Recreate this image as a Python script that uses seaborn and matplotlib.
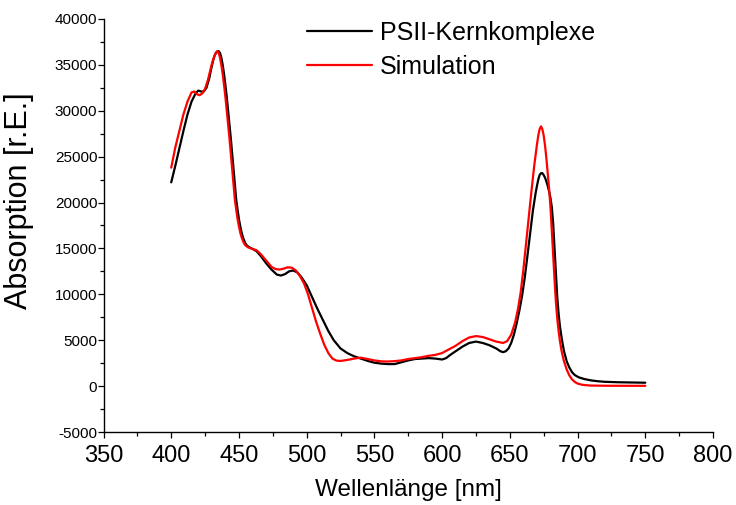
import matplotlib
matplotlib.use("Agg")
import matplotlib.pyplot as plt
import seaborn as sns
import pandas as pd
from matplotlib.ticker import MultipleLocator

# PSII-Kernkomplexe (measured)
psii_nm = [400, 403, 406, 409, 412, 415, 418, 420, 422, 424, 426, 428, 430, 431, 432, 433,
           434, 435, 436, 437, 438, 439, 440, 441, 442, 443, 444, 445, 446, 447, 448, 449,
           450, 451, 452, 453, 454, 455, 456, 458, 460, 463, 466, 470, 474, 478, 481, 484,
           487, 490, 493, 496, 500, 504, 508, 512, 516, 520, 525, 530, 535, 540, 545, 550,
           555, 560, 565, 570, 575, 580, 585, 590, 595, 600, 603, 606, 610, 615, 620, 625,
           630, 635, 640, 643, 645, 647, 649, 651, 653, 655, 657, 659, 661, 663, 665, 667,
           669, 670, 671, 672, 673, 674, 675, 676, 677, 678, 679, 680, 681, 682, 683, 684,
           685, 686, 687, 688, 689, 690, 692, 694, 696, 698, 701, 705, 710, 715, 720, 730,
           740, 750]
psii_abs = [22200, 24000, 25900, 27800, 29600, 31000, 31900, 32200, 32100, 32100, 32500,
            33500, 34900, 35500, 36000, 36300, 36450, 36500, 36300, 35800, 35000, 34000,
            32800, 31500, 30000, 28500, 27000, 25300, 23500, 21800, 20300, 19200, 18200,
            17400, 16700, 16200, 15800, 15500, 15300, 15100, 14950, 14700, 14200, 13400,
            12700, 12150, 12050, 12200, 12500, 12600, 12400, 11900, 11000, 9700, 8400, 7200,
            6000, 5000, 4100, 3600, 3250, 3000, 2750, 2550, 2450, 2400, 2400, 2600, 2800,
            2950, 3000, 3050, 3000, 2900, 3050, 3400, 3800, 4300, 4700, 4850, 4700, 4450,
            4100, 3800, 3700, 3800, 4100, 4700, 5600, 6800, 8200, 9800, 11800, 14200, 16700,
            19100, 21000, 21800, 22500, 23000, 23200, 23200, 23000, 22700, 22300, 21800,
            21200, 20500, 19500, 17700, 15000, 12200, 9700, 7900, 6500, 5500, 4600, 3800,
            2700, 2000, 1500, 1200, 950, 770, 620, 530, 470, 420, 390, 370]

# Simulation
sim_nm = [400, 403, 406, 409, 412, 415, 417, 419, 421, 423, 425, 427, 429, 430, 431, 432,
          433, 434, 435, 436, 437, 438, 439, 440, 441, 442, 443, 444, 445, 446, 447, 448,
          449, 450, 451, 452, 453, 454, 455, 457, 460, 463, 466, 470, 474, 477, 480, 483,
          486, 489, 492, 495, 498, 501, 504, 507, 510, 513, 516, 519, 522, 525, 530, 535,
          540, 545, 550, 555, 560, 565, 570, 575, 580, 585, 590, 595, 600, 605, 610, 615,
          620, 625, 630, 635, 640, 645, 648, 651, 654, 656, 658, 660, 662, 664, 666, 668,
          670, 671, 672, 673, 674, 675, 676, 677, 678, 679, 680, 681, 682, 683, 684, 685,
          686, 687, 688, 689, 690, 692, 694, 696, 698, 700, 703, 706, 710, 720, 735, 750]
sim_abs = [23800, 26000, 27800, 29600, 31000, 32000, 32100, 31800, 31700, 31900, 32400,
           33300, 34500, 35100, 35600, 36000, 36350, 36500, 36300, 35800, 35000, 34000,
           32800, 31500, 30000, 28500, 27000, 25300, 23500, 21800, 20300, 19200, 18200,
           17400, 16700, 16200, 15800, 15500, 15300, 15100, 14950, 14800, 14400, 13700,
           13000, 12750, 12700, 12800, 12950, 12900, 12600, 12000, 11200, 10000, 8500, 7000,
           5700, 4500, 3600, 3000, 2780, 2740, 2850, 3000, 3100, 2950, 2800, 2700, 2680,
           2720, 2800, 2950, 3050, 3150, 3300, 3400, 3600, 4000, 4400, 4900, 5300, 5450,
           5350, 5100, 4850, 4700, 4900, 5600, 7000, 8400, 10200, 12700, 15600, 18600,
           21300, 24000, 26300, 27300, 28000, 28300, 28000, 27300, 26200, 24800, 23200,
           21500, 19500, 17000, 14300, 11600, 9200, 7400, 6000, 4900, 4000, 3300, 2700,
           1800, 1150, 720, 450, 280, 160, 100, 60, 40, 30, 30]

series_names = ["PSII-Kernkomplexe", "Simulation"]
series_colors = ["#000000", "#FF0000"]

x_ticks = [350, 400, 450, 500, 550, 600, 650, 700, 750, 800]
y_ticks = [-5000, 0, 5000, 10000, 15000, 20000, 25000, 30000, 35000, 40000]

df_psii = pd.DataFrame({"nm": psii_nm, "abs": psii_abs})
df_sim = pd.DataFrame({"nm": sim_nm, "abs": sim_abs})

sns.set_theme(style="ticks")
plt.rcParams["font.family"] = ["Liberation Sans", "DejaVu Sans"]
plt.rcParams["text.color"] = "black"
plt.rcParams["axes.labelcolor"] = "black"
plt.rcParams["xtick.color"] = "black"
plt.rcParams["ytick.color"] = "black"

W, H = 736, 505
fig = plt.figure(figsize=(W / 100, H / 100), dpi=100)
L, R, T, B = 103.5, 713.0, 19.0, 432.0
ax = fig.add_axes([L / W, 1 - B / H, (R - L) / W, (B - T) / H])

sns.lineplot(data=df_psii, x="nm", y="abs", ax=ax, color=series_colors[0],
             linewidth=1.6, label=series_names[0])
sns.lineplot(data=df_sim, x="nm", y="abs", ax=ax, color=series_colors[1],
             linewidth=1.6, label=series_names[1])

ax.set_xlim(350, 800)
ax.set_ylim(-5000, 40000)
ax.set_xticks(x_ticks)
ax.set_yticks(y_ticks)
ax.set_xticklabels([str(v) for v in x_ticks])
ax.set_yticklabels([str(v) for v in y_ticks])
ax.xaxis.set_minor_locator(MultipleLocator(25))
ax.yaxis.set_minor_locator(MultipleLocator(2500))

for s in ["top", "right"]:
    ax.spines[s].set_visible(False)
for s in ["left", "bottom"]:
    ax.spines[s].set_linewidth(1.0)
    ax.spines[s].set_color("black")

ax.tick_params(axis="both", which="major", direction="out", length=4.5, width=0.9,
               color="black", labelcolor="black")
ax.tick_params(axis="both", which="minor", direction="out", length=3.0, width=0.9, color="black")
ax.tick_params(axis="x", which="major", labelsize=17, pad=4.5)
ax.tick_params(axis="y", which="major", labelsize=11, pad=0.0)

ax.set_xlabel("Wellenlänge [nm]", fontsize=17.5, color="black")
ax.set_ylabel("Absorption [r.E.]", fontsize=22, color="black")
ax.xaxis.set_label_coords(0.5, (B - 479) / (B - T))
ax.yaxis.set_label_coords((34 - L) / (R - L), (B - 201) / (B - T))

ax.grid(False)
ax.set_facecolor("white")
fig.patch.set_facecolor("white")

leg = ax.legend(loc="upper left", bbox_to_anchor=(307 / W, 1 - 21 / H),
                bbox_transform=fig.transFigure, frameon=False, fontsize=18,
                handlelength=2.6, handletextpad=0.3, labelspacing=0.4,
                borderpad=0, borderaxespad=0)
for text in leg.get_texts():
    text.set_color("black")
for line in leg.get_lines():
    line.set_linewidth(1.6)

fig.savefig("out.png", dpi=100)
